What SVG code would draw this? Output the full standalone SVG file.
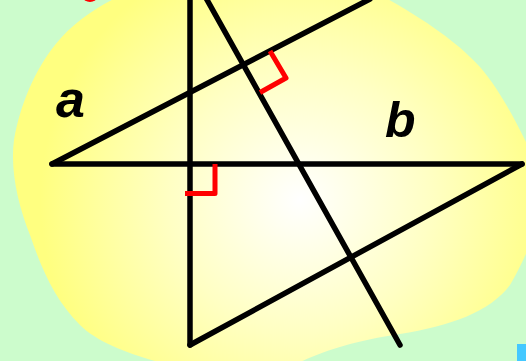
<svg xmlns="http://www.w3.org/2000/svg" width="526" height="361" viewBox="0 0 526 361">
<defs>
<radialGradient id="glow" gradientUnits="userSpaceOnUse" cx="300" cy="200" r="260">
<stop offset="0" stop-color="#ffffff"/>
<stop offset="0.5" stop-color="#ffffc4"/>
<stop offset="1" stop-color="#ffff80"/>
</radialGradient>
<style>
.ln{stroke:#000;stroke-width:5.5;stroke-linecap:round;fill:none}
.rt{stroke:#ff0000;stroke-width:5;stroke-linejoin:round;stroke-linecap:butt;fill:none}
.lbl{font-family:"Liberation Sans",Arial,sans-serif;font-weight:bold;font-style:italic;fill:#000}
</style>
</defs>
<rect x="0" y="0" width="526" height="361" fill="#ccfccc"/>
<path id="blob" d="M 128,-8 C 100,5 75,20 55,45 C 35,70 20,105 14,140 C 10,170 18,205 30,235 C 42,270 55,300 80,325 C 100,345 140,358 175,366 L 292,366 C 320,352 352,341 400,334 C 450,326 490,312 510,285 C 518,272 524,258 530,245 L 530,150 C 515,120 500,90 480,67 C 460,45 430,22 375,-8 Z" fill="url(#glow)"/>
<ellipse cx="90" cy="-3" rx="7" ry="5" fill="#ff0000"/>
<rect x="517" y="344" width="12" height="20" fill="#44c8ff"/>
<g id="connectors">
<line class="ln" x1="52" y1="164" x2="522" y2="164"/>
<line class="ln" x1="52" y1="164" x2="370" y2="-1"/>
<line class="ln" x1="190" y1="-5" x2="190" y2="345"/>
<line class="ln" x1="190" y1="345" x2="522" y2="164"/>
<line class="ln" x1="206" y1="-2" x2="400" y2="345"/>
</g>
<g id="right-angle-1">
<polyline class="rt" points="215,164 215,193.5 185,193.5"/>
</g>
<g id="right-angle-2">
<polyline class="rt" points="270,51 286,78 260,92.5"/>
</g>
<g id="label-a"><text class="lbl" x="56" y="117" font-size="52">a</text></g>
<g id="label-b"><text class="lbl" x="385" y="137" font-size="50">b</text></g>
</svg>
